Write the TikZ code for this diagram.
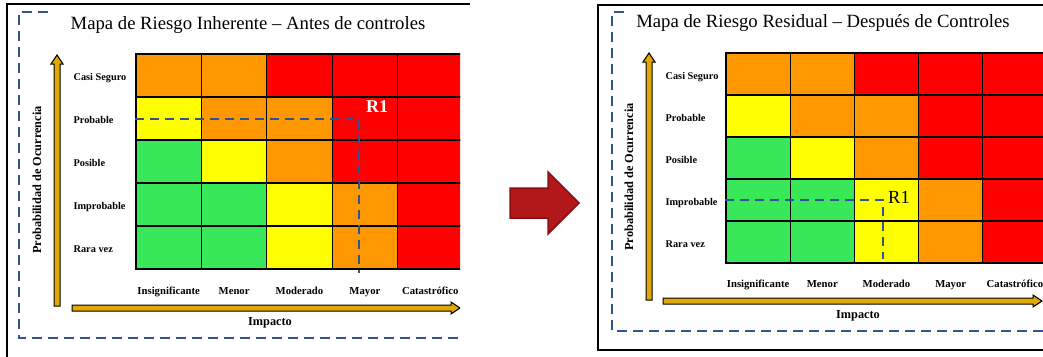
\documentclass[tikz,border=0pt]{standalone}
\usepackage{fontspec}
\setmainfont{Liberation Serif}
\definecolor{riskg}{RGB}{56,232,88}
\definecolor{risky}{RGB}{255,255,0}
\definecolor{risko}{RGB}{255,152,0}
\definecolor{riskr}{RGB}{255,0,0}
\definecolor{dashblue}{RGB}{47,84,150}
\definecolor{axisgold}{RGB}{224,168,0}
\definecolor{bigred}{RGB}{178,24,26}
\definecolor{bigredline}{RGB}{140,14,16}

\begin{document}
\begin{tikzpicture}[x=1pt,y=-1pt]
\tikzstyle{cell}=[rectangle,draw=black,line width=1.1pt,inner sep=0pt]
\tikzstyle{maptitle}=[font=\fontsize{18.7}{20}\selectfont,inner sep=0pt]
\tikzstyle{rowlabel}=[font=\fontsize{10.3}{12}\selectfont\bfseries,anchor=base west,inner sep=0pt]
\tikzstyle{collabel}=[font=\fontsize{10.7}{12}\selectfont\bfseries,anchor=base,inner sep=0pt]
\tikzstyle{axislabel}=[font=\fontsize{12.3}{14}\selectfont\bfseries,inner sep=0pt]
\tikzstyle{axisarrow}=[draw=black,line width=1pt,fill=axisgold]
\tikzstyle{frame}=[line width=2.5pt]
\tikzstyle{bluedash}=[draw=dashblue,line width=1.9pt,dash pattern=on 10pt off 6pt]
\tikzstyle{r1line}=[draw=dashblue,line width=2pt,dash pattern=on 9pt off 6pt]

\clip (0,0) rectangle (1043,356);

% inherent risk map (left)
\draw[frame] (7,360) -- (7,4) -- (470,4);
\begin{scope}
\clip (0,0) rectangle (460,356);
\draw[bluedash] (48,12) -- (19,12) -- (19,338) -- (470,338);
\node[maptitle] (Ltitle) at (248,25) {Mapa de Riesgo Inherente – Antes de controles};

\foreach \r/\row in {1/{o,o,r,r,r},2/{y,o,o,r,r},3/{g,y,o,r,r},4/{g,g,y,o,r},5/{g,g,y,o,r}}
  \foreach \col [count=\c] in \row
    \node[cell,fill=risk\col,minimum width=65.4pt,minimum height=43pt] (L\r\c) at ({136+65.4*(\c-0.5)},{54+43*(\r-0.5)}) {};

\foreach \r/\lab in {1/Casi Seguro,2/Probable,3/Posible,4/Improbable,5/Rara vez}
  \node[rowlabel] (Ly\r) at ([xshift=-62pt,yshift=-5pt]L\r1.west) {\lab};
\foreach \c/\lab in {1/Insignificante,2/Menor,3/Moderado,4/Mayor,5/Catastrófico}
  \node[collabel] (Lx\c) at ([yshift=-24.5pt]L5\c.south) {\lab};

\coordinate (Lr1) at (359,273);
\draw[r1line] (L21.west) -| (Lr1);
\node[font=\fontsize{18}{20}\selectfont\bfseries,text=white,inner sep=0pt] (LR1) at (377,107) {R1};

\draw[axisarrow] (54,306) -- (54,64) -- (51,64) -- (57,55) -- (63,64) -- (60,64) -- (60,306) -- cycle;
\draw[axisarrow] (72,305) -- (451,305) -- (451,302) -- (460,308) -- (451,314) -- (451,311) -- (72,311) -- cycle;
\node[axislabel] (Limp) at (270,323) {Impacto};
\node[axislabel,rotate=90] (Lprob) at (37,180) {Probabilidad de Ocurrencia};
\end{scope}

% arrow between maps
\draw[fill=bigred,draw=bigredline,line width=1.5pt] (510,188) -- (548,188) -- (548,172) -- (579,203) -- (548,234) -- (548,218) -- (510,218) -- cycle;

% residual risk map (right)
\draw[frame] (1050,5) -- (598,5) -- (598,350) -- (1050,350);
\draw[bluedash] (624,12) -- (612,12) -- (612,331) -- (1050,331);
\node[maptitle] (Rtitle) at (823,23) {Mapa de Riesgo Residual – Después de Controles};

\foreach \r/\row in {1/{o,o,r,r,r},2/{y,o,o,r,r},3/{g,y,o,r,r},4/{g,g,y,o,r},5/{g,g,y,o,r}}
  \foreach \col [count=\c] in \row
    \node[cell,fill=risk\col,minimum width=64.2pt,minimum height=42pt] (R\r\c) at ({726+64.2*(\c-0.5)},{53+42*(\r-0.5)}) {};

\foreach \r/\lab in {1/Casi Seguro,2/Probable,3/Posible,4/Improbable,5/Rara vez}
  \node[rowlabel] (Ry\r) at ([xshift=-60pt,yshift=-5pt]R\r1.west) {\lab};
\foreach \c/\lab in {1/Insignificante,2/Menor,3/Moderado,4/Mayor,5/Catastrófico}
  \node[collabel] (Rx\c) at ([yshift=-24pt]R5\c.south) {\lab};

\coordinate (Rr1) at (883,259);
\draw[r1line] (R41.west) -| (Rr1);
\node[font=\fontsize{18.5}{20}\selectfont,inner sep=0pt] (RR1) at (899,197) {R1};

\draw[axisarrow] (646,300) -- (646,62) -- (643,62) -- (649,53) -- (655,62) -- (652,62) -- (652,300) -- cycle;
\draw[axisarrow] (663,298) -- (1033,298) -- (1033,295) -- (1042,301) -- (1033,307) -- (1033,304) -- (663,304) -- cycle;
\node[axislabel] (Rimp) at (858,316) {Impacto};
\node[axislabel,rotate=90] (Rprob) at (629,177) {Probabilidad de Ocurrencia};

\end{tikzpicture}
\end{document}
